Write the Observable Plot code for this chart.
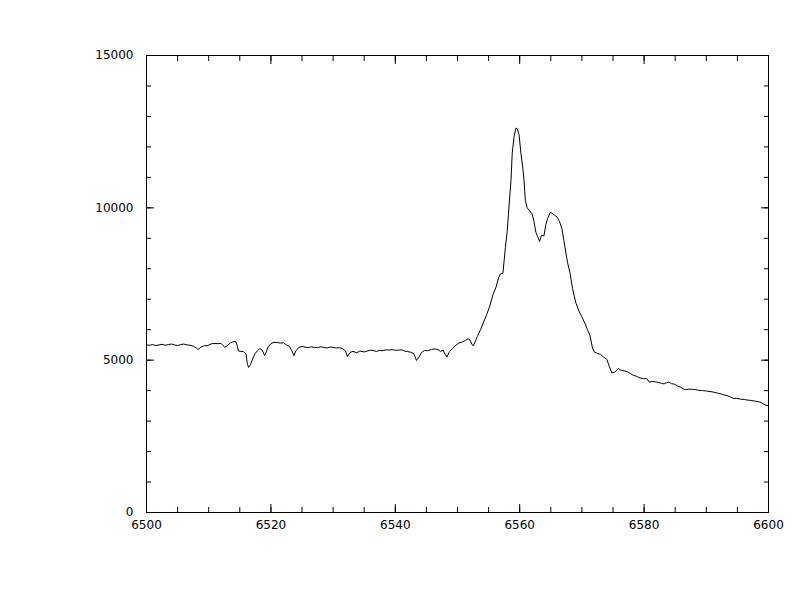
<!DOCTYPE html>
<html>
<head>
<meta charset="utf-8">
<script src="https://cdn.jsdelivr.net/npm/d3@7"></script>
<script src="https://cdn.jsdelivr.net/npm/@observablehq/plot@0.6"></script>
<style>
  html, body { margin: 0; padding: 0; background: #fff; }
  #chart svg { display: block; }
</style>
</head>
<body>
<div id="chart"></div>
<script>
// Wavelength (Angstrom) and flux
const wavelength = [
  6500.0,6500.5,6501.0,6501.5,6502.0,6502.5,6503.0,6503.5,6504.0,6504.5,
  6505.0,6505.5,6506.0,6506.5,6507.0,6507.5,6508.0,6508.3,6508.7,6509.2,
  6509.8,6510.5,6511.0,6511.5,6512.0,6512.3,6512.6,6513.0,6513.5,6514.0,
  6514.4,6514.6,6514.8,6515.2,6515.6,6516.0,6516.2,6516.4,6516.7,6517.0,
  6517.4,6517.8,6518.2,6518.6,6519.0,6519.3,6519.6,6520.0,6520.5,6521.0,
  6521.5,6522.0,6522.5,6523.0,6523.4,6523.7,6524.0,6524.5,6525.0,6525.5,
  6526.0,6526.5,6527.0,6527.5,6528.0,6528.5,6529.0,6529.5,6530.0,6530.5,
  6531.0,6531.5,6532.0,6532.3,6532.7,6533.2,6533.8,6534.3,6535.0,6535.5,
  6536.0,6536.5,6537.0,6537.5,6538.0,6538.5,6539.0,6539.5,6540.0,6540.5,
  6541.0,6541.5,6542.0,6542.5,6543.0,6543.4,6543.8,6544.2,6544.7,6545.2,
  6545.8,6546.4,6546.9,6547.3,6547.7,6548.0,6548.3,6548.7,6549.2,6549.6,
  6550.2,6550.8,6551.3,6551.7,6552.0,6552.3,6552.5,6552.8,6553.2,6553.7,
  6554.2,6554.7,6555.2,6555.7,6556.2,6556.6,6556.9,6557.3,6557.7,6558.0,
  6558.3,6558.6,6558.8,6559.1,6559.4,6559.6,6559.9,6560.2,6560.5,6560.7,
  6560.9,6561.2,6561.6,6562.0,6562.3,6562.6,6562.9,6563.2,6563.5,6563.9,
  6564.2,6564.5,6564.9,6565.2,6565.6,6566.0,6566.4,6566.8,6567.1,6567.4,
  6567.7,6568.1,6568.5,6569.0,6569.5,6570.0,6570.5,6570.9,6571.3,6571.7,
  6572.0,6572.5,6573.0,6573.5,6574.0,6574.4,6574.8,6575.2,6575.6,6575.9,
  6576.3,6576.8,6577.3,6577.8,6578.3,6578.8,6579.3,6579.9,6580.4,6580.8,
  6581.3,6581.8,6582.3,6582.8,6583.2,6583.6,6584.0,6584.4,6584.9,6585.4,
  6585.9,6586.3,6586.7,6587.2,6587.8,6588.3,6588.8,6589.4,6590.0,6590.6,
  6591.2,6591.8,6592.4,6592.8,6593.3,6593.9,6594.4,6594.9,6595.5,6596.1,
  6596.6,6597.1,6597.7,6598.3,6598.8,6599.2,6599.6,6600.0
];
const flux = [
  5500,5490,5510,5480,5500,5520,5490,5510,5530,5500,
  5480,5510,5530,5500,5490,5460,5400,5350,5420,5470,
  5480,5540,5550,5540,5550,5480,5420,5480,5570,5610,
  5600,5460,5300,5290,5280,5200,4900,4760,4850,5000,
  5200,5300,5380,5330,5150,5300,5450,5540,5590,5580,
  5560,5570,5500,5450,5300,5150,5300,5420,5450,5430,
  5410,5440,5420,5410,5440,5420,5400,5430,5420,5400,
  5410,5380,5300,5120,5250,5290,5240,5300,5270,5300,
  5330,5310,5290,5320,5310,5340,5330,5350,5320,5330,
  5340,5300,5280,5260,5200,4990,5100,5250,5320,5310,
  5350,5370,5340,5290,5330,5200,5100,5280,5380,5470,
  5560,5600,5650,5700,5660,5530,5470,5580,5780,6000,
  6250,6500,6780,7150,7400,7700,7830,7850,8700,9250,
  10100,10900,11800,12350,12620,12600,12400,11780,11300,10900,
  10250,10000,9900,9800,9550,9200,9050,8900,9100,9080,
  9450,9650,9850,9820,9760,9700,9550,9300,8930,8550,
  8200,7850,7350,6900,6620,6420,6200,6000,5810,5400,
  5270,5220,5190,5100,5030,4800,4580,4600,4660,4720,
  4670,4650,4620,4560,4500,4470,4420,4390,4400,4280,
  4300,4290,4270,4240,4220,4260,4280,4230,4210,4150,
  4110,4060,4030,4050,4040,4030,4010,4000,3990,3970,
  3950,3920,3890,3860,3840,3790,3740,3750,3720,3710,
  3690,3680,3660,3640,3610,3560,3520,3500
];
const xMajorTicks = [6500, 6520, 6540, 6560, 6580, 6600];
const xMinorTicks = d3.range(6500, 6601, 5);
const yMajorTicks = [0, 5000, 10000, 15000];
const yMinorTicks = d3.range(0, 15001, 1000);
const xDomain = [6500, 6600];
const yDomain = [0, 15000];

const spectrum = wavelength.map((w, i) => ({w, f: flux[i]}));

const tickOpts = {text: null, label: null, stroke: "#000"};

const chart = Plot.plot({
  width: 792,
  height: 612,
  marginLeft: 146,
  marginRight: 24,
  marginTop: 55,
  marginBottom: 100,
  style: {fontFamily: "DejaVu Sans", fontSize: "12px", background: "#fff", color: "#000"},
  x: {domain: xDomain, axis: null, label: null},
  y: {domain: yDomain, axis: null, label: null},
  marks: [
    Plot.frame({stroke: "#000", strokeWidth: 1}),
    // minor ticks (inward) on all four sides
    Plot.axisX({anchor: "bottom", ticks: xMinorTicks, tickSize: -5, ...tickOpts}),
    Plot.axisX({anchor: "top", ticks: xMinorTicks, tickSize: -5, ...tickOpts}),
    Plot.axisY({anchor: "left", ticks: yMinorTicks, tickSize: -5, ...tickOpts}),
    Plot.axisY({anchor: "right", ticks: yMinorTicks, tickSize: -5, ...tickOpts}),
    // major ticks (inward)
    Plot.axisX({anchor: "bottom", ticks: xMajorTicks, tickSize: -8, ...tickOpts}),
    Plot.axisX({anchor: "top", ticks: xMajorTicks, tickSize: -8, ...tickOpts}),
    Plot.axisY({anchor: "left", ticks: yMajorTicks, tickSize: -8, ...tickOpts}),
    Plot.axisY({anchor: "right", ticks: yMajorTicks, tickSize: -8, ...tickOpts}),
    // tick labels
    Plot.axisX({anchor: "bottom", ticks: xMajorTicks, tickSize: 0, tickPadding: 8, tickFormat: d => String(d), label: null, fill: "#000", letterSpacing: "1px"}),
    Plot.axisY({anchor: "left", ticks: yMajorTicks, tickSize: 0, tickPadding: 13, tickFormat: d => String(d), label: null, fill: "#000", letterSpacing: "1px"}),
    Plot.line(spectrum, {x: "w", y: "f", stroke: "#000", strokeWidth: 1})
  ]
});
document.getElementById("chart").appendChild(chart);
</script>
</body>
</html>
